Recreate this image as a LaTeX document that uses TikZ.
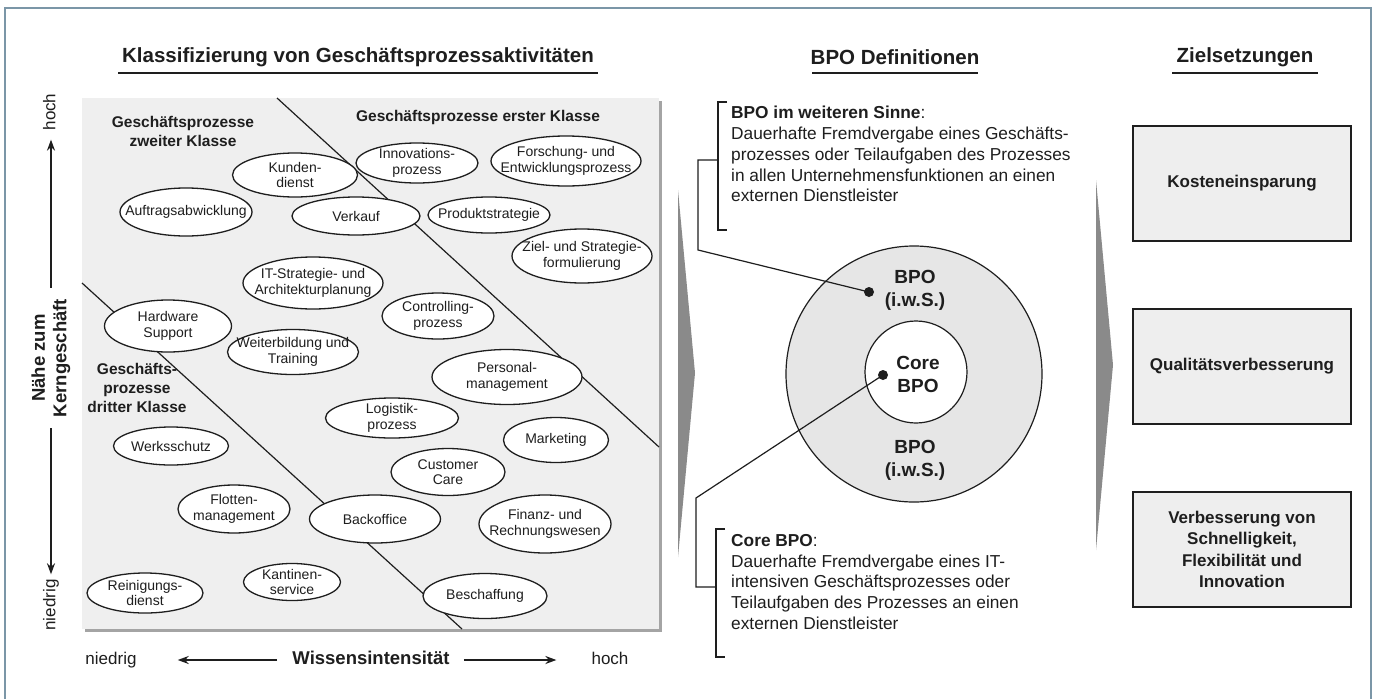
\documentclass[tikz,border=0pt]{standalone}
\usepackage{fontspec}
\setmainfont{Liberation Sans}
\usetikzlibrary{positioning,arrows.meta,shapes.geometric}
\definecolor{ink}     {HTML}{1E1E1E}
\definecolor{framec}  {HTML}{7B96A7}
\definecolor{panelbg} {HTML}{EFEFEF}
\definecolor{shadowc} {HTML}{A4A4A4}
\definecolor{ringbg}  {HTML}{E6E6E6}
\definecolor{wedge}   {HTML}{8A8A8A}
\definecolor{boxbg}   {HTML}{EEEEEE}
\tikzset{
  proc/.style    = {ellipse, draw=ink, fill=white, line width=1.3pt,
                    inner xsep=-20pt, inner ysep=-4pt, align=center, text=ink,
                    font=\fontsize{14}{15.5}\selectfont},
  cls/.style     = {font=\bfseries\fontsize{15.5}{19}\selectfont, align=center, text=ink},
  head/.style    = {font=\bfseries\fontsize{20.5}{24}\selectfont, text=ink},
  hrule/.style   = {draw=ink, line width=1.4pt},
  divline/.style = {draw=ink, line width=1.2pt},
  axis/.style    = {-{Stealth[length=11pt,width=8pt]}, draw=ink, line width=2.2pt},
  axlbl/.style   = {font=\fontsize{17}{20}\selectfont, text=ink, inner sep=0pt,
                    text height=12pt, text depth=3.5pt},
  axhead/.style  = {font=\bfseries\fontsize{18.5}{21.5}\selectfont, text=ink,
                    align=center, inner sep=0pt},
  deftext/.style = {font=\fontsize{17.3}{20.8}\selectfont, text=ink, align=left,
                    anchor=north west, inner sep=0pt},
  brk/.style     = {draw=ink, line width=1.2pt},
  lead/.style    = {draw=ink, line width=1.2pt},
  dot/.style     = {circle, fill=ink, inner sep=0pt, minimum size=10pt},
  ring/.style    = {circle, draw=ink, line width=1.2pt, inner sep=0pt},
  ringlbl/.style = {font=\bfseries\fontsize{19}{23}\selectfont, text=ink, align=center},
  goal/.style    = {draw=ink, fill=boxbg, line width=1.5pt, minimum width=218pt,
                    minimum height=115pt, align=center, text=ink,
                    font=\bfseries\fontsize{17}{21.5}\selectfont},
}

\begin{document}
\begin{tikzpicture}[x=1pt, y=-1pt]
  \useasboundingbox (0,0) rectangle (1376,699);
  \fill[white] (0,0) rectangle (1376,699);
  \draw[framec, line width=2pt] (5,699) -- (5,8) -- (1371,8) -- (1371,699);

  % headers
  \node[head] (tclass) at (358,57) {Klassifizierung von Geschäftsprozessaktivitäten};
  \draw[hrule] (118,73) -- (598,73);
  \node[head] (tdef) at (895,57) {BPO Definitionen};
  \draw[hrule] (812,73) -- (978,73);
  \node[head] (tgoal) at (1245,57) {Zielsetzungen};
  \draw[hrule] (1172,73) -- (1318,73);

  % classification panel
  \fill[shadowc] (85,101) rectangle (662,632);
  \fill[panelbg] (82,98) rectangle (659,629);
  \draw[divline] (277,98) -- (659,447);
  \draw[divline] (82,283) -- (462,629);

  \node[cls] (cls1) at (478,117) {Geschäftsprozesse erster Klasse};
  \node[cls] (cls2) at (183,131) {Geschäftsprozesse\\zweiter Klasse};
  \node[cls] (cls3) at (137,388) {Geschäfts-\\prozesse\\dritter Klasse};

  \node[proc, minimum width=125pt, minimum height=44pt] (kunden)   at (295,175) {Kunden-\\dienst};
  \node[proc, minimum width=122pt, minimum height=40pt] (innov)    at (417,163) {Innovations-\\prozess};
  \node[proc, minimum width=150pt, minimum height=50pt] (forsch)   at (566,161) {Forschung- und\\Entwicklungsprozess};
  \node[proc, minimum width=132pt, minimum height=48pt] (auftrag)  at (186,212) {Auftragsabwicklung};
  \node[proc, minimum width=128pt, minimum height=38pt] (verkauf)  at (356,216) {Verkauf};
  \node[proc, minimum width=122pt, minimum height=36pt] (produkt)  at (489,215) {Produktstrategie};
  \node[proc, minimum width=140pt, minimum height=54pt] (ziel)     at (582,256) {Ziel- und Strategie-\\formulierung};
  \node[proc, minimum width=140pt, minimum height=52pt] (itstrat)  at (313,283) {IT-Strategie- und\\Architekturplanung};
  \node[proc, minimum width=112pt, minimum height=46pt] (control)  at (438,316) {Controlling-\\prozess};
  \node[proc, minimum width=127pt, minimum height=52pt] (hardware) at (168,326) {Hardware\\Support};
  \node[proc, minimum width=131pt, minimum height=45pt] (weiter)   at (293,352) {Weiterbildung und\\Training};
  \node[proc, minimum width=150pt, minimum height=55pt] (personal) at (507,377) {Personal-\\management};
  \node[proc, minimum width=133pt, minimum height=40pt] (logistik) at (392,418) {Logistik-\\prozess};
  \node[proc, minimum width=115pt, minimum height=38pt] (werk)     at (171,446) {Werksschutz};
  \node[proc, minimum width=105pt, minimum height=45pt] (market)   at (556,440) {Marketing};
  \node[proc, minimum width=114pt, minimum height=47pt] (customer) at (448,472) {Customer\\Care};
  \node[proc, minimum width=112pt, minimum height=48pt] (flotte)   at (234,509) {Flotten-\\management};
  \node[proc, minimum width=131pt, minimum height=48pt] (backoff)  at (375,519) {Backoffice};
  \node[proc, minimum width=132pt, minimum height=58pt] (finanz)   at (545,524) {Finanz- und\\Rechnungswesen};
  \node[proc, minimum width=116pt, minimum height=40pt] (reinig)   at (145,593) {Reinigungs-\\dienst};
  \node[proc, minimum width=97pt,  minimum height=37pt] (kantine)  at (292,582) {Kantinen-\\service};
  \node[proc, minimum width=124pt, minimum height=45pt] (beschaff) at (485,596) {Beschaffung};

  % axes
  \node[axlbl, rotate=90] (yhi) at (51,112) {hoch};
  \node[axhead, rotate=90] (ylbl) at (51,358) {Nähe zum\\Kerngeschäft};
  \node[axlbl, rotate=90] (ylo) at (51,605) {niedrig};
  \draw[axis, shorten <=11pt, shorten >=9pt] (ylbl.east) -- (yhi.west);
  \draw[axis, shorten <=11pt, shorten >=5pt] (ylbl.west) -- (ylo.east);

  \node[axlbl] (xlo) at (111,660) {niedrig};
  \node[axhead, text height=13pt, text depth=3.5pt] (xlbl) at (371,660) {Wissensintensität};
  \node[axlbl] (xhi) at (610,660) {hoch};
  \draw[axis, shorten <=15pt, shorten >=41pt] (xlbl.west) -- (xlo.east);
  \draw[axis, shorten <=14pt, shorten >=35pt] (xlbl.east) -- (xhi.west);

  % wedges
  \fill[wedge] (678,190) -- (695,373) -- (678,557) -- cycle;
  \fill[wedge] (1096,180) -- (1113,365) -- (1096,550) -- cycle;

  % BPO definitions
  \node[ring, fill=ringbg, minimum size=256pt] (outer) at (914,374) {};
  \node[ring, fill=white, minimum size=102pt] (inner) at (916,372) {};
  \node[ringlbl] (bpoup) at (915,290) {BPO\\(i.w.S.)};
  \node[ringlbl] (core) at (918,374) {Core\\BPO};
  \node[ringlbl] (bpodown) at (915,460) {BPO\\(i.w.S.)};
  \node[dot] (dotw) at (869,292) {};
  \node[dot] (dotc) at (883,375) {};

  \node[deftext] (defw) at (731,106)
    {\textbf{BPO im weiteren Sinne}:\\
     Dauerhafte Fremdvergabe eines Geschäfts-\\
     prozesses oder Teilaufgaben des Prozesses\\
     in allen Unternehmensfunktionen an einen\\
     externen Dienstleister};
  \node[deftext] (defc) at (731,534)
    {\textbf{Core BPO}:\\
     Dauerhafte Fremdvergabe eines IT-\\
     intensiven Geschäftsprozesses oder\\
     Teilaufgaben des Prozesses an einen\\
     externen Dienstleister};

  \coordinate (b1m) at (718,160);
  \coordinate (b2m) at (716,587);
  \draw[brk] (727,102) -- (718,102) -- (718,230) -- (727,230);
  \draw[brk] (725,529) -- (716,529) -- (716,657) -- (725,657);
  \draw[lead] (b1m) -- (698,160) -- (698,250) -- (dotw.center);
  \draw[lead] (dotc.center) -- (696,498) -- (696,587) -- (b2m);

  % goals
  \node[goal] (kosten) at (1242,183.5) {Kosteneinsparung};
  \node[goal] (quali)  at (1242,366.5) {Qualitätsverbesserung};
  \node[goal] (speed)  at (1242,549.5) {Verbesserung von\\Schnelligkeit,\\Flexibilität und\\Innovation};
\end{tikzpicture}
\end{document}
